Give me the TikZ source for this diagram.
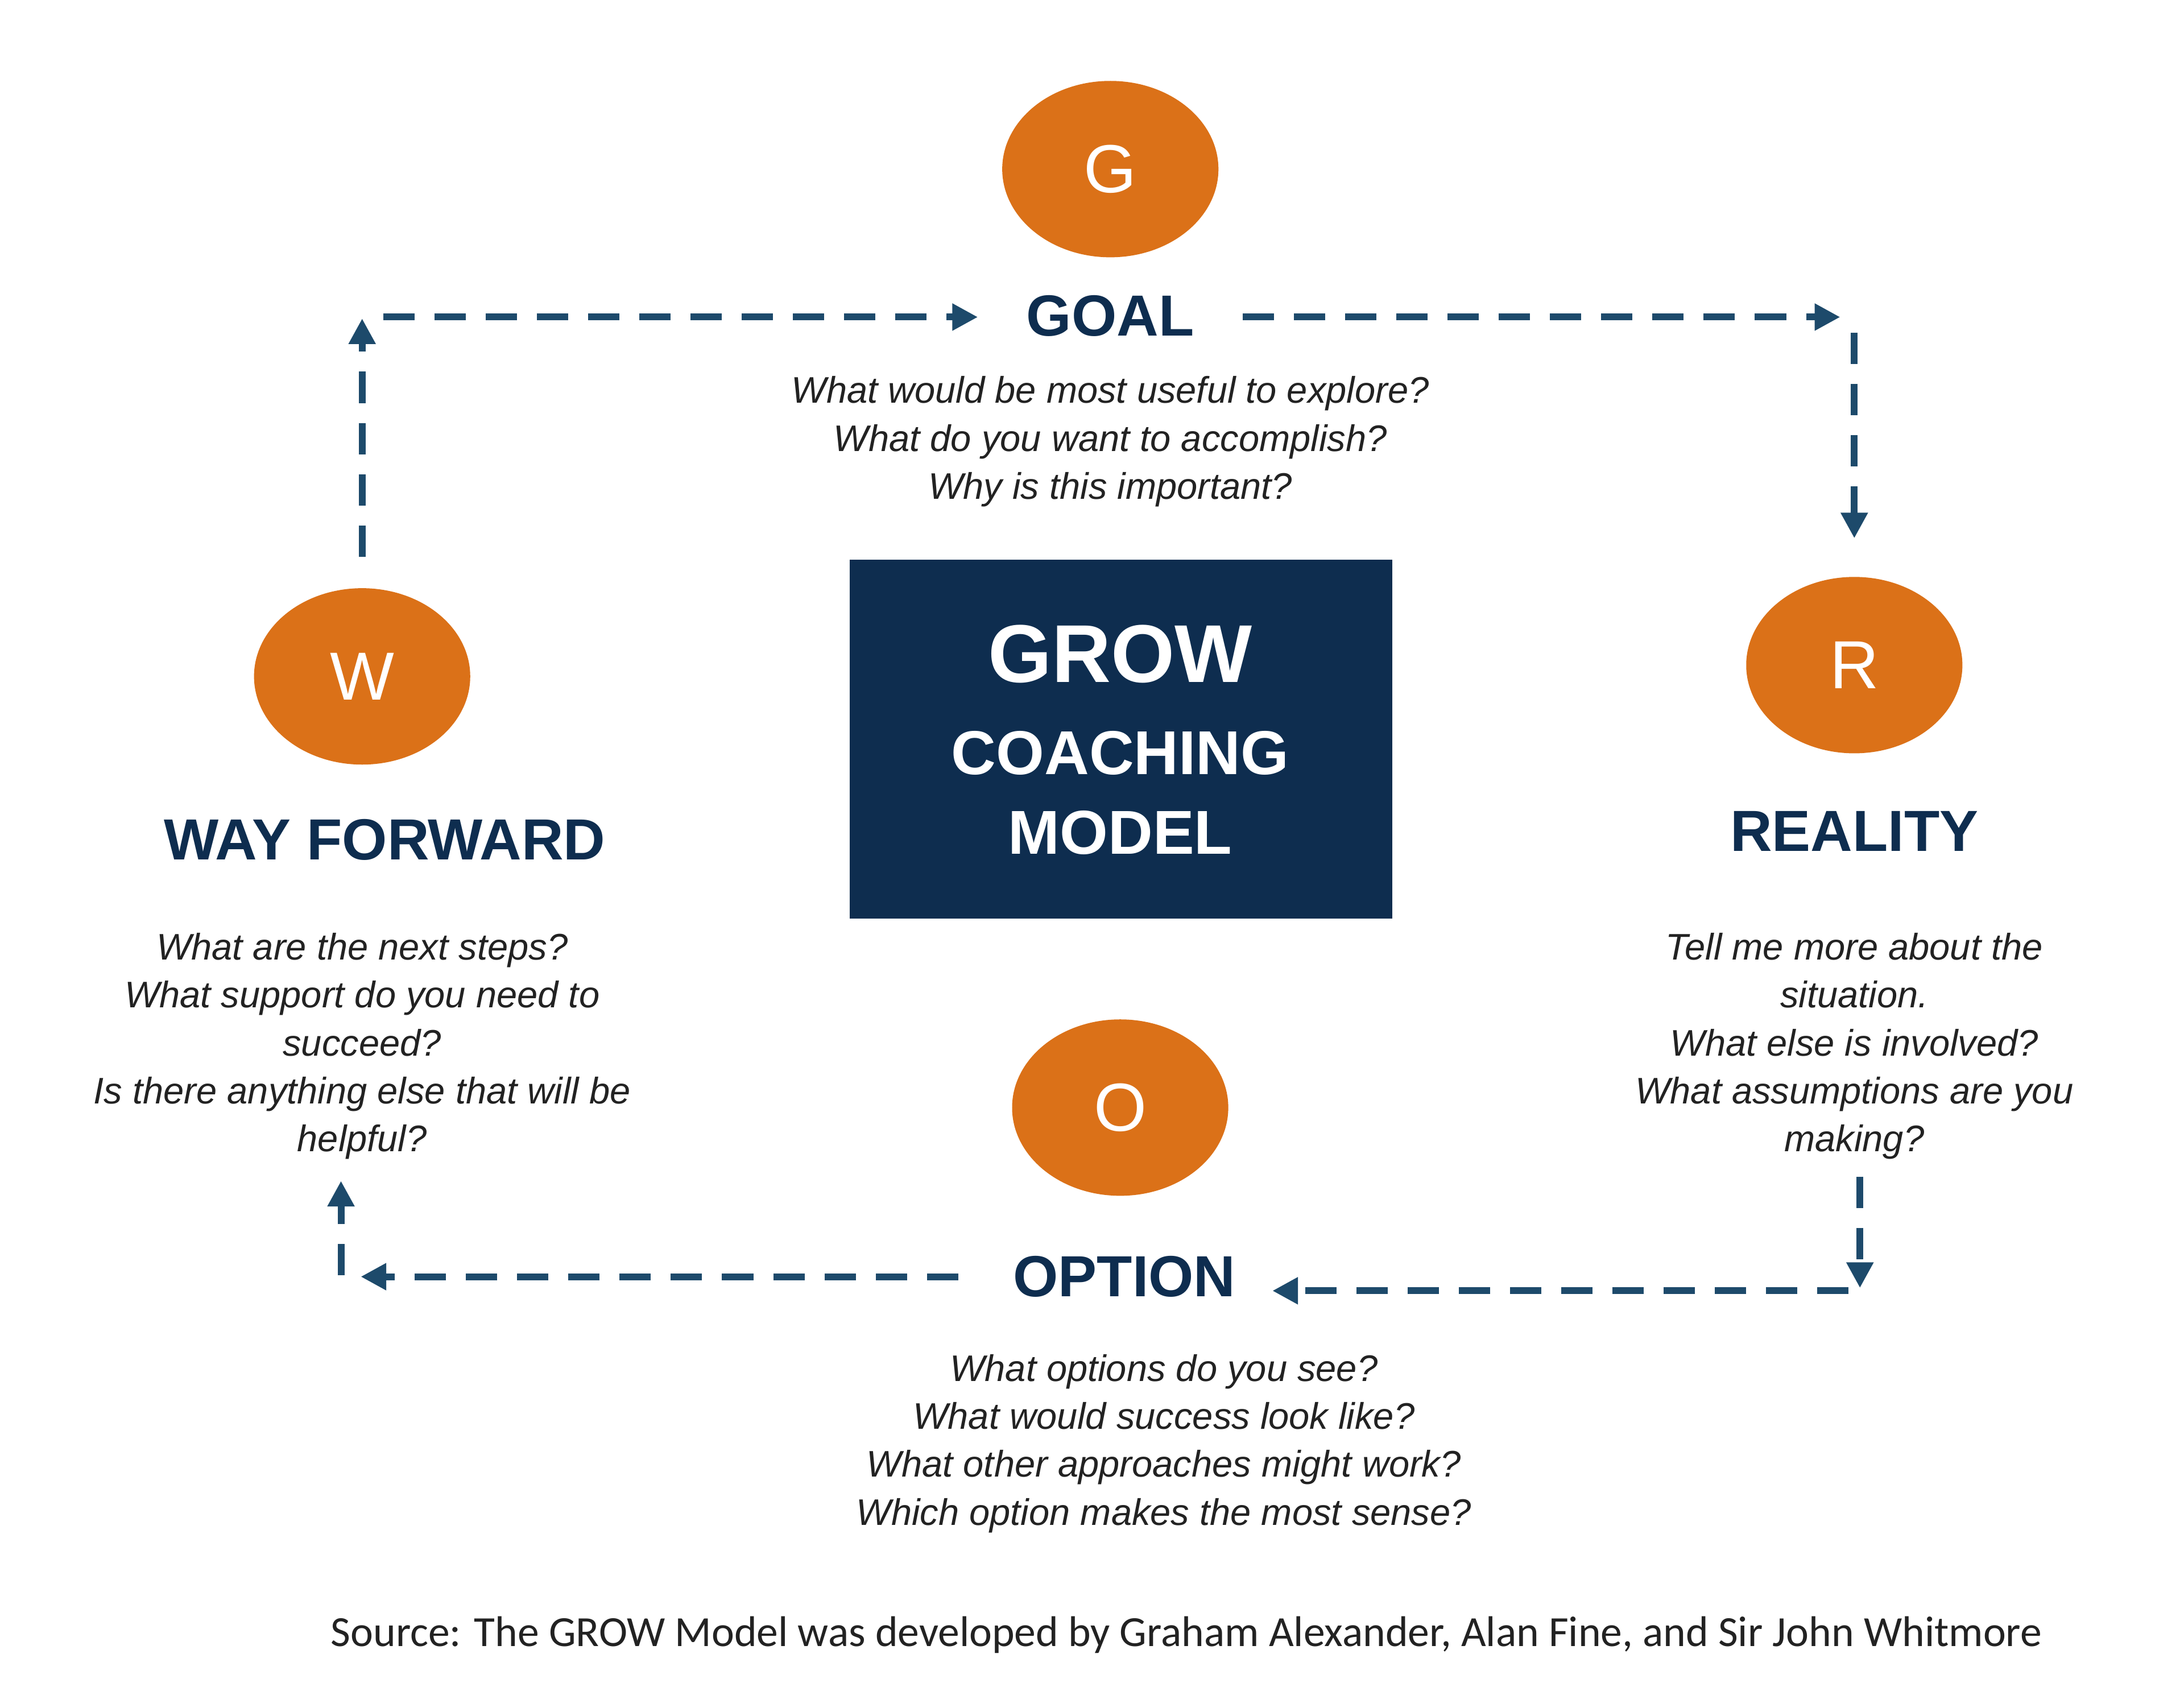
\documentclass[tikz,border=0pt]{standalone}
\usepackage{fontspec}
\setmainfont{Liberation Sans}
\newfontfamily\srcfont{Carlito}
\newfontfamily\qfont{Liberation Sans Italic}
\usetikzlibrary{arrows.meta,shapes.geometric}
\definecolor{org}{HTML}{DB7118}
\definecolor{navy}{HTML}{0E2D4F}
\definecolor{arr}{HTML}{1D4A6B}
\definecolor{txt}{HTML}{222222}
\tikzset{
 letter/.style={ellipse,fill=org,minimum width=3.8cm,minimum height=3.1cm,text=white,font=\fontsize{34}{34}\selectfont,inner sep=0pt},
 head/.style={text=navy,font=\fontsize{29}{29}\selectfont\bfseries},
 q/.style={align=center,text=txt,font=\fontsize{18.5}{24}\selectfont\itshape},
 flow/.style={draw=arr,line width=3.4pt,dash pattern=on 0.55cm off 0.35cm,-{Triangle[length=0.45cm,width=0.45cm]}}
}
\begin{document}
\begin{tikzpicture}[x=0.02477cm,y=-0.02477cm]
\useasboundingbox (0,0) rectangle (1550,1200);
\fill[white] (0,0) rectangle (1550,1200);
\node[letter] (g) at (788,120) {G};
\node[letter] (w) at (257,480) {W};
\node[letter] (r) at (1316,472) {R};
\node[letter] (o) at (795,786) {O};
\node[head] (goal) at (788,224) {GOAL};
\node[head] (way) at (273,596) {WAY FORWARD};
\node[head] (real) at (1316,590) {REALITY};
\node[head] (opt) at (798,906) {OPTION};
\node[q,anchor=north] (gq) at (788,262) {What would be most useful to explore?\\What do you want to accomplish?\\Why is this important?};
\node[q,anchor=north] (wq) at (257,657) {What are the next steps?\\What support do you need to\\succeed?\\Is there anything else that will be\\helpful?};
\node[q,anchor=north] (rq) at (1316,657) {Tell me more about the\\situation.\\What else is involved?\\What assumptions are you\\making?};
\node[q,anchor=north] (oq) at (826,956) {What options do you see?\\What would success look like?\\What other approaches might work?\\Which option makes the most sense?};
\fill[navy] (603,397) rectangle (988,652);
\node[text=white,align=center,font=\bfseries\fontsize{31}{40}\selectfont] (box) at (795,525) {{\fontsize{41}{48}\selectfont GROW}\\[6pt]COACHING\\MODEL};
\node[text=txt,font=\srcfont\fontsize{21.5}{21.5}\selectfont] (src) at (842,1160) {Source: The GROW Model was developed by Graham Alexander, Alan Fine, and Sir John Whitmore};
\coordinate (a1) at (257,395); \coordinate (a2) at (257,226);
\coordinate (b1) at (272,225); \coordinate (b2) at (694,225);
\coordinate (c1) at (882,225); \coordinate (c2) at (1306,225);
\coordinate (d1) at (1316,236); \coordinate (d2) at (1316,382);
\coordinate (e1) at (1320,835); \coordinate (e2) at (1320,914);
\coordinate (f1) at (1312,916); \coordinate (f2) at (903,916);
\coordinate (h1) at (680,906); \coordinate (h2) at (256,906);
\coordinate (i1) at (242,905); \coordinate (i2) at (242,838);
\draw[flow] (a1)--(a2); \draw[flow] (b1)--(b2);
\draw[flow] (c1)--(c2); \draw[flow] (d1)--(d2);
\draw[flow] (e1)--(e2); \draw[flow] (f1)--(f2);
\draw[flow] (h1)--(h2); \draw[flow] (i1)--(i2);
\end{tikzpicture}
\end{document}
